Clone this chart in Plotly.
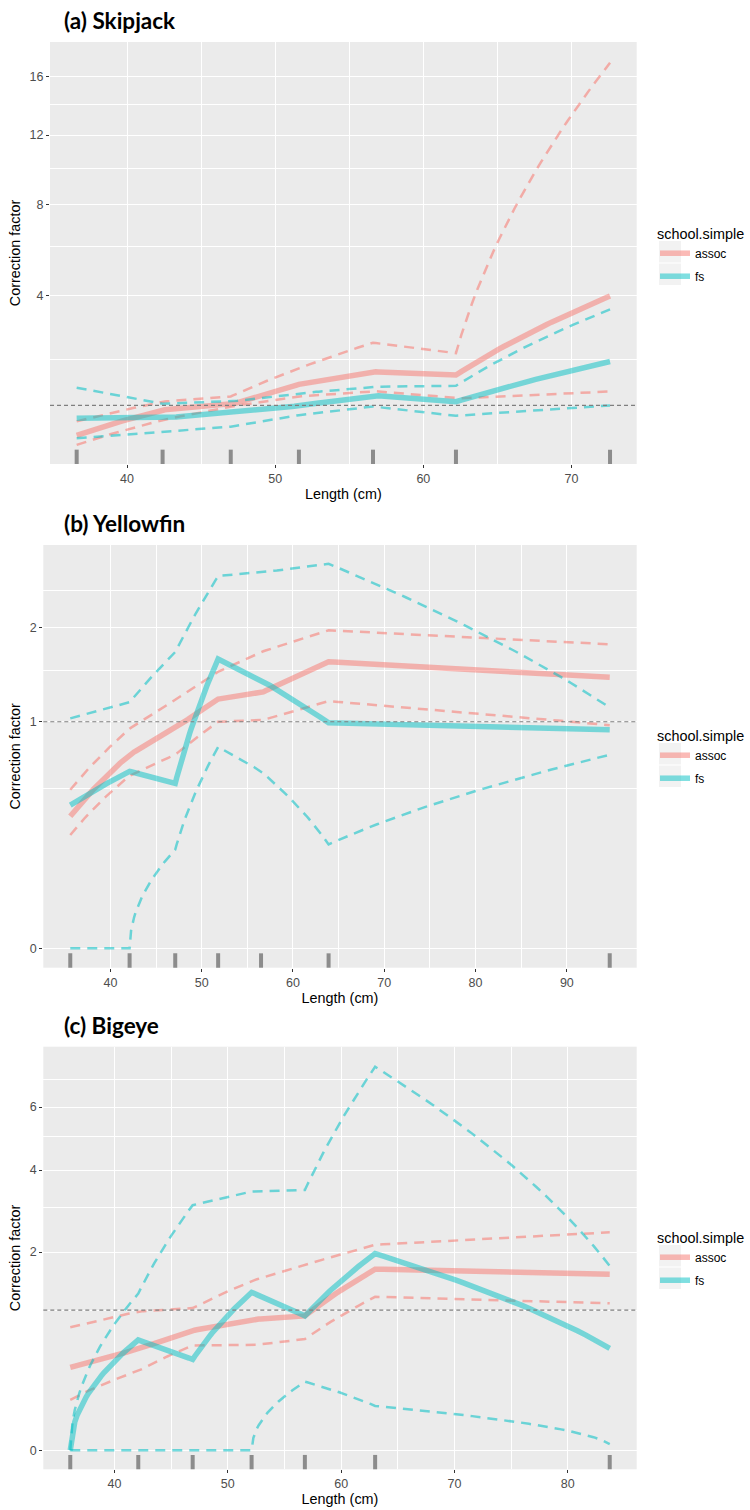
import numpy as np
import plotly.graph_objects as go

W, H = 750, 1510

ASSOC_COLOR = "#F8766D"
FS_COLOR = "#00BFC4"
REFERENCE_LEVEL = 1.0

# ---- (a) Skipjack ----
skj_length = [36.6, 42.4, 47.0, 51.6, 56.6, 62.2, 72.6]
skj_assoc = [0.53, 0.92, 1.01, 1.42, 1.71, 1.63, 3.99]
skj_assoc_lo = [0.41, 0.75, 0.98, 1.17, 1.28, 1.13, 1.27]
skj_assoc_hi = [0.73, 1.07, 1.17, 1.79, 2.47, 2.18, 17.0]
skj_fs = [0.78, 0.78, 0.89, 0.99, 1.19, 1.07, 1.96]
skj_fs_lo = [0.49, 0.58, 0.65, 0.83, 0.98, 0.82, 1.00]
skj_fs_hi = [1.35, 1.03, 1.07, 1.23, 1.37, 1.39, 3.52]
skj_yticks = [4, 8, 12, 16]
skj_yminor = [2, 6, 10, 14]
skj_xticks = [40, 50, 60, 70]
skj_xminor = [45, 55, 65]

# ---- (b) Yellowfin ----
yft_length = [35.6, 42.1, 47.1, 51.8, 56.5, 63.9, 94.7]
yft_assoc = [0.34, 0.73, 0.94, 1.21, 1.27, 1.60, 1.43]
yft_assoc_lo = [0.25, 0.58, 0.73, 1.00, 1.01, 1.19, 0.97]
yft_assoc_hi = [0.49, 0.94, 1.20, 1.49, 1.71, 1.97, 1.80]
yft_fs = [0.40, 0.61, 0.53, 1.63, 1.40, 0.99, 0.93]
yft_fs_lo = [0.0, 0.0, 0.19, 0.79, 0.61, 0.21, 0.73]
yft_fs_hi = [1.03, 1.18, 1.71, 2.70, 2.75, 2.88, 1.13]
yft_yticks = [0, 1, 2]
yft_yminor = [0.5, 1.5, 2.5]
yft_xticks = [40, 50, 60, 70, 80, 90]
yft_xminor = [45, 55, 65, 75, 85]

# ---- (c) Bigeye ----
bet_length = [36.1, 42.1, 46.9, 52.1, 56.8, 63.0, 83.7]
bet_assoc = [0.35, 0.52, 0.73, 0.87, 0.92, 1.67, 1.58]
bet_assoc_lo = [0.13, 0.32, 0.56, 0.56, 0.63, 1.20, 1.10]
bet_assoc_hi = [0.77, 0.98, 1.03, 1.46, 1.75, 2.15, 2.42]
bet_fs = [0.0, 0.62, 0.42, 1.27, 0.92, 1.97, 0.53]
bet_fs_lo = [0.0, 0.0, 0.0, 0.0, 0.24, 0.10, 0.002]
bet_fs_hi = [0.0, 1.25, 3.06, 3.41, 3.45, 7.49, 1.73]
bet_yticks = [0, 2, 4, 6]
bet_yminor = [1, 3, 5, 7]
bet_xticks = [40, 50, 60, 70, 80]
bet_xminor = [45, 55, 65, 75]

panels = [
    dict(title="(a) Skipjack", length=skj_length,
         assoc=(skj_assoc, skj_assoc_lo, skj_assoc_hi),
         fs=(skj_fs, skj_fs_lo, skj_fs_hi),
         yticks=skj_yticks, yminor=skj_yminor, xticks=skj_xticks, xminor=skj_xminor,
         px=(50, 636.7), py=(42, 464), yrange=(0.466, 4.313),
         title_y=21, legend_top=220),
    dict(title="(b) Yellowfin", length=yft_length,
         assoc=(yft_assoc, yft_assoc_lo, yft_assoc_hi),
         fs=(yft_fs, yft_fs_lo, yft_fs_hi),
         yticks=yft_yticks, yminor=yft_yminor, xticks=yft_xticks, xminor=yft_xminor,
         px=(43.3, 636.7), py=(545, 967.7), yrange=(-0.0856, 1.780),
         title_y=523, legend_top=722),
    dict(title="(c) Bigeye", length=bet_length,
         assoc=(bet_assoc, bet_assoc_lo, bet_assoc_hi),
         fs=(bet_fs, bet_fs_lo, bet_fs_hi),
         yticks=bet_yticks, yminor=bet_yminor, xticks=bet_xticks, xminor=bet_xminor,
         px=(43.3, 636.7), py=(1046.7, 1469.3), yrange=(-0.1356, 2.880),
         title_y=1025, legend_top=1224),
]


def sqrt_path(xs, ys, steps=30):
    """Straight segments in data space, drawn on a square-root y coordinate."""
    px, py = [], []
    for i in range(len(xs) - 1):
        t = np.linspace(0.0, 1.0, steps, endpoint=(i == len(xs) - 2))
        px.extend(xs[i] + (xs[i + 1] - xs[i]) * t)
        py.extend(ys[i] + (ys[i + 1] - ys[i]) * t)
    return np.array(px), np.sqrt(np.clip(py, 0, None))


def rgba(hex_color, a):
    h = hex_color.lstrip("#")
    r, g, b = int(h[0:2], 16), int(h[2:4], 16), int(h[4:6], 16)
    return f"rgba({r},{g},{b},{a})"


FONT = "Liberation Sans, Arial, sans-serif"
TICK_FONT = dict(size=12.5, color="#4D4D4D", family=FONT)
fig = go.Figure()
layout = dict(
    width=W, height=H, margin=dict(l=0, r=0, t=0, b=0),
    paper_bgcolor="white", plot_bgcolor="#EBEBEB",
    font=dict(family=FONT, color="black"),
    shapes=[], annotations=[],
)

for i, p in enumerate(panels):
    k = "" if i == 0 else str(i + 1)
    xref, yref = "x" + k, "y" + k
    leg = "legend" + k

    lengths = p["length"]
    span = max(lengths) - min(lengths)
    xrange = [min(lengths) - 0.05 * span, max(lengths) + 0.05 * span]

    for name, color, (mid, lo, hi) in (("assoc", ASSOC_COLOR, p["assoc"]),
                                       ("fs", FS_COLOR, p["fs"])):
        group = f"{name}{k}"
        for band in (lo, hi):
            bx, by = sqrt_path(lengths, band)
            fig.add_trace(go.Scatter(
                x=bx, y=by, mode="lines", xaxis=xref, yaxis=yref,
                line=dict(color=rgba(color, 0.55), width=2.5, dash="10px,7px"),
                showlegend=False, hoverinfo="skip", legend=leg, legendgroup=group))
        mx, my = sqrt_path(lengths, mid)
        fig.add_trace(go.Scatter(
            x=mx, y=my, mode="lines", xaxis=xref, yaxis=yref, name=name,
            line=dict(color=rgba(color, 0.5), width=5.5),
            showlegend=True, legend=leg, legendgroup=group))

    # rug of length classes along the bottom
    for L in lengths:
        layout["shapes"].append(dict(
            type="line", xref=xref, yref=yref + " domain",
            x0=L, x1=L, y0=0.0, y1=0.034,
            line=dict(color="#8C8C8C", width=4), layer="above"))

    # reference level
    layout["shapes"].append(dict(
        type="line", xref=xref + " domain", yref=yref,
        x0=0, x1=1, y0=np.sqrt(REFERENCE_LEVEL), y1=np.sqrt(REFERENCE_LEVEL),
        line=dict(color="#7F7F7F", width=1.1, dash="4px,3px"), layer="above"))

    # grey key backgrounds of the legend
    for j in range(2):
        top = p["legend_top"] + 21 + j * 22.5
        layout["shapes"].append(dict(
            type="rect", xref="paper", yref="paper",
            x0=659 / W, x1=681 / W, y0=1 - (top + 21.5) / H, y1=1 - top / H,
            fillcolor="#F2F2F2", line=dict(width=0), layer="below"))

    x0, x1 = p["px"]
    ytop, ybot = p["py"]
    layout["xaxis" + k] = dict(
        domain=[x0 / W, x1 / W], anchor=yref, range=xrange,
        tickmode="array", tickvals=p["xticks"], ticktext=[str(v) for v in p["xticks"]],
        ticks="outside", ticklen=3, tickwidth=1, tickcolor="#333333",
        tickfont=TICK_FONT,
        showgrid=True, gridcolor="white", gridwidth=1.1,
        minor=dict(tickmode="array", tickvals=p["xminor"], showgrid=True,
                   gridcolor="white", gridwidth=0.55, ticks=""),
        zeroline=False, showline=False,
        title=dict(text="Length (cm)", font=dict(size=14.4, family=FONT), standoff=3),
    )
    layout["yaxis" + k] = dict(
        domain=[1 - ybot / H, 1 - ytop / H], anchor=xref, range=list(p["yrange"]),
        tickmode="array", tickvals=list(np.sqrt(p["yticks"])),
        ticktext=[str(v) for v in p["yticks"]],
        ticks="outside", ticklen=3, tickwidth=1, tickcolor="#333333",
        tickfont=TICK_FONT,
        showgrid=True, gridcolor="white", gridwidth=1.1,
        minor=dict(tickmode="array", tickvals=list(np.sqrt(p["yminor"])), showgrid=True,
                   gridcolor="white", gridwidth=0.55, ticks=""),
        zeroline=False, showline=False,
        title=dict(text="Correction factor", font=dict(size=14.4, family=FONT), standoff=5),
    )
    layout[leg] = dict(
        x=655 / W, xanchor="left", y=1 - p["legend_top"] / H, yanchor="top",
        title=dict(text="school.simple", font=dict(size=14.4, family=FONT)),
        font=dict(size=12, family=FONT), bgcolor="rgba(0,0,0,0)",
        itemwidth=30, tracegroupgap=4, traceorder="grouped",
    )
    layout["annotations"].append(dict(
        text=p["title"], xref="paper", yref="paper", x=62 / W, y=1 - p["title_y"] / H,
        xanchor="left", yanchor="middle", showarrow=False,
        font=dict(family="Lato, Open Sans, sans-serif", size=22.5, weight=700, color="black")))

fig.update_layout(**layout)
fig.write_html("out.html")
